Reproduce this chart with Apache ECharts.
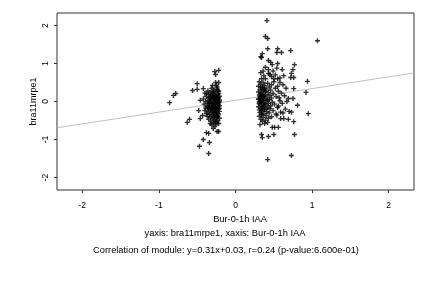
<!DOCTYPE html>
<html>
<head>
<meta charset="utf-8">
<script src="https://cdn.jsdelivr.net/npm/echarts@6/dist/echarts.min.js"></script>
<style>
  html, body { margin: 0; padding: 0; background: #fff; }
  #chart { width: 432px; height: 288px; }
</style>
</head>
<body>
<div id="chart"></div>
<script>
// ticks and labels
var axisTicks = [-2, -1, 0, 1, 2];
var axisMin = -2.33;
var axisMax = 2.33;
var xName = 'Bur-0-1h IAA';
var yName = 'bra11mrpe1';
var captionLines = [
    'yaxis: bra11mrpe1, xaxis: Bur-0-1h IAA',
    'Correlation of module: y=0.31x+0.03, r=0.24 (p-value:6.600e-01)'
];

// fit coefficients (from caption)
var slope = 0.31;
var intercept = 0.03;

// points around -0.3
var leftCluster = [
    [-0.27, 0.79], [-0.22, 0.82], [-0.26, 0.71], [-0.50, 0.47], [-0.56, 0.29], [-0.50, 0.32],
    [-0.42, 0.34], [-0.78, 0.21], [-0.81, 0.16], [-0.86, -0.03], [-0.60, -0.47], [-0.63, -0.55],
    [-0.38, -0.82], [-0.35, -0.84], [-0.42, -1.00], [-0.34, -1.08], [-0.47, -1.18], [-0.35, -1.37],
    [-0.26, 0.50], [-0.22, 0.50], [-0.25, 0.42], [-0.30, 0.42], [-0.38, 0.21], [-0.46, 0.03],
    [-0.48, -0.24], [-0.43, -0.37], [-0.46, -0.45], [-0.33, -0.58], [-0.26, -0.58], [-0.22, -0.58],
    [-0.29, -0.71], [-0.24, -0.79], [-0.22, -0.79],
    [-0.31, 0.35], [-0.24, 0.33], [-0.28, 0.30], [-0.36, 0.28], [-0.22, 0.27], [-0.33, 0.25],
    [-0.26, 0.24], [-0.40, 0.22], [-0.29, 0.21], [-0.23, 0.19], [-0.35, 0.18], [-0.27, 0.17],
    [-0.31, 0.15], [-0.21, 0.14], [-0.38, 0.13], [-0.25, 0.12], [-0.34, 0.10], [-0.29, 0.09],
    [-0.23, 0.08], [-0.42, 0.07], [-0.32, 0.06], [-0.27, 0.05], [-0.21, 0.04], [-0.36, 0.03],
    [-0.30, 0.02], [-0.25, 0.01], [-0.39, 0.00], [-0.33, -0.01], [-0.28, -0.02], [-0.22, -0.03],
    [-0.35, -0.04], [-0.26, -0.05], [-0.31, -0.06], [-0.41, -0.07], [-0.24, -0.08], [-0.29, -0.09],
    [-0.34, -0.10], [-0.21, -0.11], [-0.37, -0.12], [-0.27, -0.13], [-0.32, -0.14], [-0.23, -0.15],
    [-0.30, -0.16], [-0.39, -0.17], [-0.26, -0.18], [-0.35, -0.19], [-0.22, -0.20], [-0.28, -0.21],
    [-0.33, -0.22], [-0.25, -0.23], [-0.40, -0.24], [-0.30, -0.25], [-0.21, -0.26], [-0.36, -0.27],
    [-0.27, -0.28], [-0.32, -0.29], [-0.24, -0.30], [-0.29, -0.31], [-0.38, -0.32], [-0.22, -0.33],
    [-0.34, -0.34], [-0.26, -0.35], [-0.31, -0.36], [-0.23, -0.38], [-0.37, -0.39], [-0.28, -0.40],
    [-0.33, -0.41], [-0.25, -0.43], [-0.21, -0.44], [-0.30, -0.45], [-0.35, -0.47], [-0.27, -0.48],
    [-0.23, -0.50], [-0.32, -0.51], [-0.26, -0.53], [-0.29, -0.55], [-0.24, -0.57], [-0.31, -0.62],
    [-0.27, -0.66], [-0.22, 0.22], [-0.23, -0.12], [-0.24, 0.02], [-0.21, -0.18], [-0.22, 0.10],
    [-0.25, -0.27], [-0.23, 0.30], [-0.26, -0.01], [-0.24, -0.41], [-0.28, 0.11], [-0.30, -0.11],
    [-0.33, 0.07], [-0.27, -0.17], [-0.29, 0.26], [-0.31, -0.20], [-0.25, 0.06], [-0.22, -0.07],
    [-0.34, -0.05], [-0.26, 0.15], [-0.28, -0.36], [-0.24, 0.38], [-0.30, 0.13], [-0.36, -0.15],
    [-0.32, 0.19], [-0.21, 0.00]
];

// points around 0.4
var rightCluster = [
    [0.41, 2.13], [0.39, 1.71], [0.42, 1.66], [1.07, 1.60], [0.42, 1.39], [0.55, 1.39],
    [0.54, 1.29], [0.60, 1.29], [0.72, 1.34], [0.35, 1.26], [0.33, 1.18], [0.34, 1.16],
    [0.43, 1.08], [0.46, 1.03], [0.48, 0.97], [0.55, 1.00], [0.77, 0.97], [0.61, 0.84],
    [0.75, 0.84], [0.73, 0.74], [0.43, 0.84], [0.43, 0.74], [0.33, 0.76], [0.37, 0.68],
    [0.45, 0.71], [0.63, 0.68], [0.72, 0.63], [0.76, 0.63], [0.34, 0.60], [0.39, 0.60],
    [0.50, 0.60], [0.55, 0.60], [0.94, 0.53], [0.76, 0.34], [0.92, 0.24], [0.69, 0.08],
    [0.75, 0.08], [0.81, -0.10], [0.70, -0.26], [0.73, -0.28], [0.95, -0.32], [0.59, -0.45],
    [0.63, -0.45], [0.69, -0.47], [0.76, -0.53], [0.48, -0.68], [0.51, -0.68], [0.56, -0.68],
    [0.34, -0.87], [0.35, -0.95], [0.43, -0.92], [0.50, -0.87], [0.77, -0.87], [0.73, -1.42],
    [0.42, -1.53],
    [0.31, 0.52], [0.36, 0.50], [0.42, 0.48], [0.33, 0.45], [0.47, 0.44], [0.38, 0.42],
    [0.30, 0.40], [0.44, 0.38], [0.35, 0.36], [0.52, 0.35], [0.40, 0.33], [0.32, 0.31],
    [0.46, 0.30], [0.37, 0.28], [0.56, 0.27], [0.30, 0.25], [0.43, 0.24], [0.34, 0.22],
    [0.49, 0.21], [0.39, 0.19], [0.31, 0.17], [0.45, 0.16], [0.36, 0.14], [0.53, 0.13],
    [0.41, 0.12], [0.33, 0.10], [0.47, 0.09], [0.38, 0.07], [0.30, 0.06], [0.44, 0.05],
    [0.35, 0.03], [0.58, 0.02], [0.40, 0.01], [0.32, -0.01], [0.48, -0.02], [0.37, -0.03],
    [0.43, -0.05], [0.31, -0.06], [0.51, -0.07], [0.39, -0.08], [0.34, -0.10], [0.46, -0.11],
    [0.36, -0.13], [0.30, -0.14], [0.42, -0.15], [0.55, -0.16], [0.33, -0.18], [0.45, -0.19],
    [0.38, -0.21], [0.31, -0.22], [0.49, -0.24], [0.35, -0.25], [0.41, -0.27], [0.32, -0.29],
    [0.44, -0.30], [0.37, -0.32], [0.53, -0.33], [0.34, -0.35], [0.40, -0.37], [0.31, -0.39],
    [0.47, -0.40], [0.36, -0.42], [0.43, -0.44], [0.33, -0.47], [0.39, -0.49], [0.35, -0.52],
    [0.42, -0.55], [0.38, -0.58], [0.32, -0.61],
    [0.34, 0.05], [0.36, -0.06], [0.33, 0.20], [0.35, -0.17], [0.32, 0.13], [0.37, 0.35],
    [0.34, -0.33], [0.39, 0.27], [0.31, -0.02], [0.36, 0.09], [0.38, -0.12], [0.33, 0.38],
    [0.35, 0.18], [0.40, -0.20], [0.32, 0.00], [0.37, 0.15], [0.34, -0.24], [0.42, 0.03],
    [0.36, 0.30], [0.31, 0.08],
    [0.58, 0.50], [0.62, 0.44], [0.55, 0.40], [0.66, 0.35], [0.60, 0.22], [0.64, 0.15],
    [0.57, 0.10], [0.67, 0.00], [0.61, -0.05], [0.56, -0.12], [0.65, -0.20], [0.59, -0.28],
    [0.54, -0.36], [0.62, -0.30], [0.50, 0.52], [0.52, 0.70], [0.58, 0.62], [0.49, 0.80],
    [0.54, 0.88], [0.39, 0.90], [0.36, 0.80], [0.47, 0.66]
];

var chart = echarts.init(document.getElementById('chart'), null, { renderer: 'canvas' });

var font = 'Liberation Sans, Arial, sans-serif';
// "+" marker, a bit heavier than 1px so it stays dark after antialiasing
var plusSymbol = 'path://M1.8,0h1.4v1.8h1.8v1.4h-1.8v1.8h-1.4v-1.8h-1.8v-1.4h1.8z';

// fitted line end points
var fitLine = [
    [axisMin, slope * axisMin + intercept],
    [axisMax, slope * axisMax + intercept]
];

var option = {
    animation: false,
    backgroundColor: '#fff',
    grid: {
        left: 57, right: 18, top: 13, bottom: 98,
        show: true, borderColor: '#333', borderWidth: 1, backgroundColor: 'transparent'
    },
    xAxis: {
        type: 'value',
        min: axisMin, max: axisMax,
        name: xName,
        nameLocation: 'middle',
        nameGap: 22,
        nameTextStyle: { color: '#000', fontSize: 9.3, fontFamily: font, padding: [0, 0, 0, 9] },
        axisLine: { show: false, onZero: false },
        splitLine: { show: false },
        axisTick: { show: true, length: 3, customValues: axisTicks, lineStyle: { color: '#333' } },
        axisLabel: { customValues: axisTicks, color: '#000', fontSize: 8.5, fontFamily: font, margin: 11 }
    },
    yAxis: {
        type: 'value',
        min: axisMin, max: axisMax,
        name: yName,
        nameLocation: 'middle',
        nameGap: 19,
        nameMoveOverlap: false,
        nameRotate: 90,
        nameTextStyle: { color: '#000', fontSize: 9, fontFamily: font },
        axisLine: { show: false, onZero: false },
        splitLine: { show: false },
        axisTick: { show: true, length: 3, customValues: axisTicks, lineStyle: { color: '#333' } },
        axisLabel: { customValues: axisTicks, rotate: 90, color: '#000', fontSize: 8.5, fontFamily: font, margin: 7 }
    },
    graphic: [
        {
            type: 'text', x: 225, y: 233,
            style: { text: captionLines[0], fill: '#000', font: '9.3px ' + font, align: 'center', verticalAlign: 'middle' }
        },
        {
            type: 'text', x: 226, y: 250,
            style: { text: captionLines[1], fill: '#000', font: '9.3px ' + font, align: 'center', verticalAlign: 'middle' }
        }
    ],
    series: [
        {
            type: 'line',
            data: fitLine,
            symbol: 'none',
            silent: true,
            lineStyle: { color: '#c0c0c0', width: 1 },
            z: 1
        },
        {
            type: 'scatter',
            data: leftCluster,
            symbol: plusSymbol,
            symbolSize: 5,
            itemStyle: { color: '#000' },
            z: 2
        },
        {
            type: 'scatter',
            data: rightCluster,
            symbol: plusSymbol,
            symbolSize: 5,
            itemStyle: { color: '#000' },
            z: 2
        }
    ]
};

chart.setOption(option);
</script>
</body>
</html>
